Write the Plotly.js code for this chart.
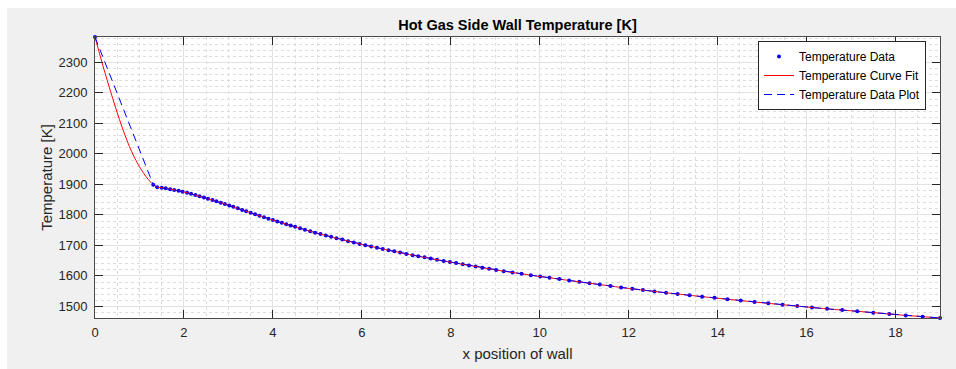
<!DOCTYPE html>
<html>
<head>
<meta charset="utf-8">
<script src="https://cdn.plot.ly/plotly-3.0.1.min.js"></script>
<style>
html,body{margin:0;padding:0;background:#ffffff;}
#chart{width:956px;height:369px;}
</style>
</head>
<body>
<div id="chart"></div>
<script>
// Measured data points: x position of wall, hot gas side wall temperature [K]
const xData = [0, 1.31, 1.40, 1.50, 1.59, 1.69, 1.78, 1.88, 1.97, 2.07, 2.16, 2.26, 2.35, 2.45, 2.54, 2.64, 2.73, 2.83, 2.92, 3.02,
  3.11, 3.21, 3.31, 3.40, 3.50, 3.60, 3.70, 3.80, 3.90, 4.00, 4.10, 4.20, 4.30, 4.40, 4.50, 4.61, 4.72, 4.84, 4.95, 5.07,
  5.19, 5.31, 5.43, 5.56, 5.69, 5.82, 5.95, 6.08, 6.21, 6.34, 6.47, 6.60, 6.73, 6.86, 7.00, 7.14, 7.27, 7.41, 7.55, 7.69,
  7.84, 7.98, 8.12, 8.27, 8.41, 8.56, 8.71, 8.86, 9.02, 9.19, 9.39, 9.59, 9.80, 10.01, 10.22, 10.44, 10.66, 10.89, 11.12, 11.35,
  11.59, 11.83, 12.08, 12.32, 12.58, 12.84, 13.10, 13.37, 13.65, 13.93, 14.22, 14.52, 14.83, 15.14, 15.46, 15.79, 16.12, 16.46,
  16.80, 17.14, 17.50, 17.86, 18.23, 18.61, 19.00];
const tempData = [2383, 1899, 1891, 1889, 1887, 1884.5, 1882, 1879, 1876, 1872.5, 1869, 1865, 1861, 1857, 1853, 1848.5, 1844.5, 1840, 1835.5, 1831,
  1826.5, 1821.5, 1816.5, 1812, 1807, 1802, 1797, 1792.5, 1787.5, 1783, 1778.5, 1774, 1769.5, 1765, 1761, 1756, 1751.5, 1746.5, 1741.5, 1737,
  1732.5, 1728, 1723.5, 1719, 1714, 1709.5, 1705, 1700.5, 1696.5, 1692.5, 1688.5, 1684.5, 1680.5, 1676.5, 1672, 1668, 1664.5, 1661, 1657, 1653,
  1649, 1645.5, 1642, 1638, 1634.5, 1631, 1627, 1623.5, 1619.5, 1615.5, 1611, 1607, 1602.5, 1598, 1594, 1589.5, 1585, 1580.5, 1576, 1571.5,
  1567, 1562, 1557.5, 1553.5, 1549, 1544.5, 1540.5, 1536.5, 1532, 1528, 1523.5, 1519, 1514.5, 1510, 1505.5, 1501, 1496.5, 1492,
  1488, 1484, 1479.5, 1475, 1470.5, 1466.5, 1462];

// Curve fit over the first (steep) section
const fitHeadX = [0, 0.10, 0.20, 0.30, 0.40, 0.50, 0.60, 0.70, 0.80, 0.90, 1.00, 1.10, 1.20, 1.31];
const fitHeadT = [2383, 2330, 2278, 2229, 2181, 2135, 2091.5, 2051.5, 2015.5, 1984.5, 1958, 1935, 1916, 1899];

const xTickVals = [0, 2, 4, 6, 8, 10, 12, 14, 16, 18];
const yTickVals = [1500, 1600, 1700, 1800, 1900, 2000, 2100, 2200, 2300];

const fitX = fitHeadX.concat(xData.slice(2));
const fitT = fitHeadT.concat(tempData.slice(2));

const FONT = 'Liberation Sans, Arial, Helvetica, sans-serif';
const AX = '#262626';

const traces = [
  {x: xData, y: tempData, name: 'Temperature Data', type: 'scatter', mode: 'markers',
   marker: {color: '#0000ff', size: 4}, cliponaxis: false},
  {x: fitX, y: fitT, name: 'Temperature Curve Fit', type: 'scatter', mode: 'lines',
   line: {color: '#ff0000', width: 1, shape: 'spline', smoothing: 0.8}},
  {x: xData, y: tempData, name: 'Temperature Data Plot', type: 'scatter', mode: 'lines',
   line: {color: '#0000ff', width: 1, dash: '8px,5px'}}
];

const axisCommon = {
  showline: true, linecolor: '#4a4a4a', linewidth: 1, mirror: 'ticks',
  ticks: 'inside', ticklen: 8, tickwidth: 1, tickcolor: '#262626',
  showgrid: true, gridcolor: '#e2e2e2', gridwidth: 1, zeroline: false,
  tickfont: {family: FONT, size: 13, color: AX},
  automargin: false
};

const layout = {
  width: 956, height: 369,
  margin: {l: 95, r: 16, t: 37, b: 51},
  paper_bgcolor: '#f0f0f0', plot_bgcolor: '#ffffff',
  showlegend: true,
  title: {text: 'Hot Gas Side Wall Temperature [K]', x: 0.5, xref: 'paper', xanchor: 'center',
          y: 1 - 25 / 369, yref: 'container', yanchor: 'middle',
          font: {family: FONT, size: 14.5, color: '#000000', weight: 700}},
  xaxis: Object.assign({}, axisCommon, {
    range: [0, 19], tickmode: 'array', tickvals: xTickVals, ticklabelstandoff: 2,
    minor: {tickmode: 'linear', tick0: 0, dtick: 0.5, showgrid: true, gridcolor: '#dcdcdc', griddash: 'dot', gridwidth: 1, ticks: ''},
    title: {text: 'x position of wall', standoff: 9, font: {family: FONT, size: 15, color: AX}}
  }),
  yaxis: Object.assign({}, axisCommon, {
    range: [1462, 2383.3], tickmode: 'array', tickvals: yTickVals, ticklabelstandoff: 4,
    minor: {tickmode: 'linear', tick0: 1500, dtick: 20, showgrid: true, gridcolor: '#dcdcdc', griddash: 'dot', gridwidth: 1, ticks: ''},
    title: {text: 'Temperature [K]', standoff: 2, font: {family: FONT, size: 15, color: AX}}
  }),
  legend: {x: (926 - 95) / 845, xanchor: 'right', y: 1 - (41 - 37) / 281, yanchor: 'top',
           bgcolor: '#ffffff', bordercolor: '#262626', borderwidth: 1,
           font: {family: FONT, size: 12, color: '#000000'}, tracegroupgap: 0},
  shapes: [
    {type: 'rect', xref: 'paper', yref: 'paper', x0: -0.3, x1: -88 / 845, y0: -0.5, y1: 1.5,
     fillcolor: '#ffffff', line: {width: 0}, layer: 'below'},
    {type: 'rect', xref: 'paper', yref: 'paper', x0: -0.3, x1: 1.3, y0: 1 + 29 / 281, y1: 1.5,
     fillcolor: '#ffffff', line: {width: 0}, layer: 'below'}
  ]
};

Plotly.newPlot('chart', traces, layout, {displayModeBar: false, staticPlot: true});
</script>
</body>
</html>
